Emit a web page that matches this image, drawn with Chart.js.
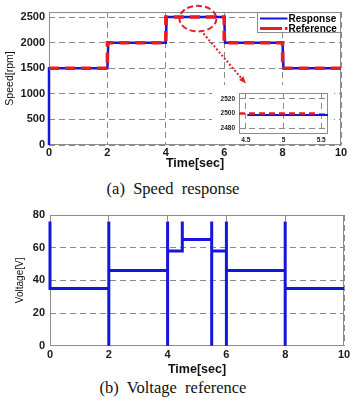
<!DOCTYPE html>
<html><head><meta charset="utf-8">
<script src="https://cdn.jsdelivr.net/npm/chart.js@4"></script>
<style>
html,body{margin:0;padding:0;background:#fff;}
body{width:355px;height:400px;position:relative;overflow:hidden;}
canvas{position:absolute;}
.cap{position:absolute;left:0;width:346px;text-align:center;font-family:"Liberation Serif","Times New Roman",serif;font-size:16.5px;line-height:19px;white-space:pre;color:#111;}
</style></head><body>
<canvas id="speed" width="355" height="171" style="left:0;top:0"></canvas>
<canvas id="inset" width="122" height="59" style="left:212px;top:85px;background:#fff"></canvas>
<div class="cap" style="top:179px">(a)  Speed  response</div>
<canvas id="volt" width="355" height="178" style="left:0;top:200px"></canvas>
<div class="cap" style="top:378px">(b)  Voltage  reference</div>
<script>
// ---- data ----
const speedTimeResp = [0, 0, 2, 2.03, 4, 4.03, 6, 6.03, 8, 8.03, 10];
const speedResp     = [0, 1500, 1500, 2000, 2000, 2500, 2500, 2000, 2000, 1500, 1500];
const speedTimeRef  = [0, 2, 2, 4, 4, 6, 6, 8, 8, 10];
const speedRef      = [1500, 1500, 2000, 2000, 2500, 2500, 2000, 2000, 1500, 1500];
const speedXTicks   = [0, 2, 4, 6, 8, 10];
const speedYTicks   = [0, 500, 1000, 1500, 2000, 2500];

const insetTimeResp = [4.52, 5.59];
const insetResp     = [2498, 2498];
const insetTimeRef  = [4.41, 5.45];
const insetRef      = [2500, 2500];
const insetXTicks   = [4.5, 5, 5.5];
const insetYTicks   = [2480, 2500, 2520];

const voltTime = [0, 0, 2, 2, 2, 2, 4, 4, 4, 4, 4.5, 4.5, 4.5, 5.5, 5.5, 5.5, 5.5, 6, 6, 6, 6, 8, 8, 8, 8, 10];
const voltage  = [76, 35, 35, 76, 0, 46, 46, 76, 0, 58, 58, 76, 65, 65, 76, 0, 58, 58, 76, 0, 46, 46, 76, 0, 35, 35];
const voltXTicks = [0, 2, 4, 6, 8, 10];
const voltYTicks = [0, 20, 40, 60, 80];

const seriesNames = ['Response', 'Reference'];
const BLUE = '#1515dc', RED = '#e81c24', GRID = '#8a8a8a', FRAME = '#8c8c8c';

// ---- helpers ----
const toXY = (xs, ys) => xs.map((x, i) => ({x: x, y: ys[i]}));
const plain = v => String(v);
Chart.defaults.font.family = '"Liberation Sans", Arial, sans-serif';
Chart.defaults.animation = false;

const framePlugin = {
  id: 'frame',
  beforeDatasetsDraw(chart) {
    const {ctx, chartArea: a} = chart;
    const l = Math.round(a.left) + 0.5, t = Math.round(a.top) + 0.5;
    const r = Math.round(a.right) - 0.5, b = Math.round(a.bottom) - 0.5;
    ctx.save();
    ctx.strokeStyle = FRAME; ctx.lineWidth = 1; ctx.setLineDash([]);
    ctx.strokeRect(l, t, r - l, b - t);
    ctx.restore();
  }
};

function scaleX(min, max, ticks, fontSize, pad, height, title, titleSize, titlePadBottom) {
  return {
    type: 'linear', min: min, max: max,
    afterBuildTicks: s => { s.ticks = ticks.map(v => ({value: v})); },
    afterFit: s => { s.height = height; },
    ticks: {font: {size: fontSize, weight: 'bold'}, color: '#1a1a1a', padding: pad, maxRotation: 0, autoSkip: false, callback: plain},
    grid: {color: GRID, lineWidth: 1, drawTicks: false},
    border: {display: false, dash: [6, 4]},
    title: title ? {display: true, text: title, font: {size: titleSize, weight: 'bold'}, color: '#111', padding: {top: 0, bottom: titlePadBottom}} : {display: false}
  };
}
function scaleY(min, max, ticks, fontSize, pad, width, title, titleSize, titlePadTop) {
  return {
    type: 'linear', min: min, max: max,
    afterBuildTicks: s => { s.ticks = ticks.map(v => ({value: v})); },
    afterFit: s => { s.width = width; },
    ticks: {font: {size: fontSize, weight: 'bold'}, color: '#1a1a1a', padding: pad, autoSkip: false, callback: plain},
    grid: {color: GRID, lineWidth: 1, drawTicks: false},
    border: {display: false, dash: [6, 4]},
    title: title ? {display: true, text: title, font: {size: titleSize}, color: '#111', padding: {top: titlePadTop, bottom: 0}} : {display: false}
  };
}

// legend box drawn inside the plot area (top-right), from dataset labels/styles
const boxLegend = {
  id: 'boxLegend',
  afterDatasetsDraw(chart) {
    const {ctx, chartArea: a} = chart;
    const w = 84, h = 21;
    const x = Math.round(a.right) - w, y = Math.round(a.top);
    ctx.save();
    ctx.fillStyle = '#fff'; ctx.fillRect(x, y, w, h);
    ctx.strokeStyle = FRAME; ctx.lineWidth = 1; ctx.setLineDash([]);
    ctx.strokeRect(x + 0.5, y + 0.5, w - 1, h - 1);
    chart.data.datasets.forEach((ds, i) => {
      const yy = y + 6.5 + i * 10;
      ctx.beginPath();
      ctx.setLineDash(i === 0 ? [] : [22, 3]);
      ctx.lineWidth = i === 0 ? 2 : 3;
      ctx.strokeStyle = ds.borderColor;
      ctx.moveTo(x + 3, yy); ctx.lineTo(x + 30.5, yy); ctx.stroke();
      ctx.setLineDash([]);
      ctx.fillStyle = '#000';
      ctx.font = 'bold 10px "Liberation Sans", Arial, sans-serif';
      ctx.textBaseline = 'middle'; ctx.textAlign = 'left';
      ctx.fillText(ds.label, x + 31.5, yy + 0.5);
    });
    ctx.restore();
  }
};

// dashed ellipse on the zoomed region and dotted arrow to the inset
const zoomMark = {
  id: 'zoomMark',
  afterDatasetsDraw(chart) {
    const {ctx, scales: {x, y}} = chart;
    const cx = x.getPixelForValue(5.1), cy = y.getPixelForValue(2470);
    ctx.save();
    ctx.strokeStyle = RED; ctx.lineWidth = 2; ctx.setLineDash([6, 3]);
    ctx.beginPath(); ctx.ellipse(cx, cy, 18.5, 12.8, 0, 0, Math.PI * 2); ctx.stroke();
    const x0 = x.getPixelForValue(5.2), y0 = y.getPixelForValue(2240);
    const x1 = x.getPixelForValue(6.7), y1 = y.getPixelForValue(1230);
    ctx.setLineDash([2, 2]); ctx.lineWidth = 2;
    ctx.beginPath(); ctx.moveTo(x0, y0); ctx.lineTo(x1, y1); ctx.stroke();
    const ang = Math.atan2(y1 - y0, x1 - x0), s = 6;
    ctx.setLineDash([]); ctx.fillStyle = RED;
    ctx.beginPath();
    ctx.moveTo(x1 + Math.cos(ang) * 2, y1 + Math.sin(ang) * 2);
    ctx.lineTo(x1 - Math.cos(ang - 0.5) * s, y1 - Math.sin(ang - 0.5) * s);
    ctx.lineTo(x1 - Math.cos(ang + 0.5) * s, y1 - Math.sin(ang + 0.5) * s);
    ctx.closePath(); ctx.fill();
    ctx.restore();
  }
};

// ---- speed chart ----
new Chart(document.getElementById('speed'), {
  type: 'line',
  data: {datasets: [
    {label: seriesNames[0], data: toXY(speedTimeResp, speedResp), borderColor: BLUE, borderWidth: 2.5, pointRadius: 0, tension: 0, order: 1, clip: false},
    {label: seriesNames[1], data: toXY(speedTimeRef, speedRef), borderColor: RED, borderWidth: 3.5, borderDash: [10, 6], pointRadius: 0, tension: 0, order: 0, clip: false}
  ]},
  options: {
    responsive: false, devicePixelRatio: 1,
    layout: {padding: {top: 12, right: 14, left: 0, bottom: 0}},
    plugins: {legend: {display: false}, tooltip: {enabled: false}},
    scales: {
      x: scaleX(0, 10, speedXTicks, 11, 1.5, 26, 'Time[sec]', 12.5, 0),
      y: scaleY(0, 2600, speedYTicks, 11, 4, 49, 'Speed[rpm]', 10.5, 4)
    }
  },
  plugins: [framePlugin, zoomMark, boxLegend]
});

// ---- inset chart ----
new Chart(document.getElementById('inset'), {
  type: 'line',
  data: {datasets: [
    {label: seriesNames[0], data: toXY(insetTimeResp, insetResp), borderColor: BLUE, borderWidth: 2, pointRadius: 0, tension: 0, order: 1},
    {label: seriesNames[1], data: toXY(insetTimeRef, insetRef), borderColor: RED, borderWidth: 2.5, borderDash: [6, 4], pointRadius: 0, tension: 0, order: 0}
  ]},
  options: {
    responsive: false, devicePixelRatio: 1,
    layout: {padding: {top: 4, right: 6, left: 0, bottom: 0}},
    plugins: {legend: {display: false}, tooltip: {enabled: false}},
    scales: {
      x: scaleX(4.41, 5.59, insetXTicks, 6.5, 3, 10.5, null),
      y: scaleY(2473, 2528, insetYTicks, 6.5, 4, 27, null)
    }
  },
  plugins: [framePlugin]
});

// ---- voltage chart ----
new Chart(document.getElementById('volt'), {
  type: 'line',
  data: {datasets: [
    {label: 'Voltage', data: toXY(voltTime, voltage), borderColor: BLUE, borderWidth: 3, pointRadius: 0, tension: 0, clip: false}
  ]},
  options: {
    responsive: false, devicePixelRatio: 1,
    layout: {padding: {top: 15, right: 11, left: 0, bottom: 0}},
    plugins: {legend: {display: false}, tooltip: {enabled: false}},
    scales: {
      x: scaleX(0, 10, voltXTicks, 11, 2.7, 32.3, 'Time[sec]', 12.5, 1),
      y: scaleY(0, 80, voltYTicks, 11, 5, 50, 'Voltage[V]', 10, 14)
    }
  },
  plugins: [framePlugin]
});
</script>
</body></html>
